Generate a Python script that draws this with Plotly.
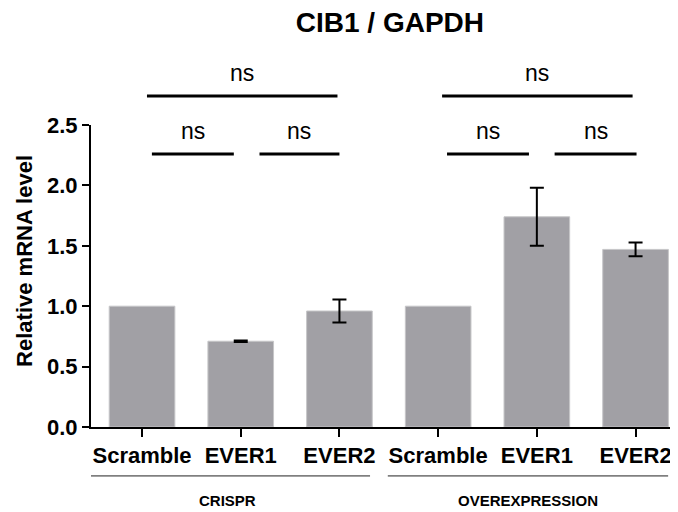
import plotly.graph_objects as go

categories = ["Scramble", "EVER1", "EVER2", "Scramble ", "EVER1 ", "EVER2 "]
tick_labels = ["Scramble", "EVER1", "EVER2", "Scramble", "EVER1", "EVER2"]
values = [1.0, 0.71, 0.96, 1.0, 1.74, 1.47]
errors = [None, 0.006, 0.095, None, 0.24, 0.057]

groups = ["CRISPR", "OVEREXPRESSION"]
group_spans = [(-0.58, 2.31), (2.49, 5.33)]

# significance brackets: (x0, x1, level in data units, label)
sig_brackets = [
    (0.05, 1.98, 2.74, "ns"),
    (3.04, 4.97, 2.74, "ns"),
    (0.10, 0.93, 2.26, "ns"),
    (1.19, 2.00, 2.26, "ns"),
    (3.09, 3.92, 2.26, "ns"),
    (4.18, 5.01, 2.26, "ns"),
]

y_max = 2.5
xs = list(range(len(categories)))

fig = go.Figure()
fig.add_trace(go.Bar(
    x=xs, y=values,
    width=0.665,
    marker=dict(color="#a1a0a5", line=dict(color="#c6c6c8", width=1)),
    showlegend=False, hoverinfo="skip",
))

# error bars only where an error exists
ex = [x for x, e in zip(xs, errors) if e is not None]
ey = [v for v, e in zip(values, errors) if e is not None]
ee = [e for e in errors if e is not None]
fig.add_trace(go.Scatter(
    x=ex, y=ey, mode="markers",
    marker=dict(size=1, color="rgba(0,0,0,0)"),
    error_y=dict(type="data", array=ee, visible=True, color="black",
                 thickness=2, width=7),
    showlegend=False,
))

font_family = "Arial, 'Liberation Sans', Helvetica, sans-serif"

shapes = []
annotations = []
for x0, x1, lvl, lab in sig_brackets:
    yp = lvl / y_max
    shapes.append(dict(type="line", xref="x", yref="paper", x0=x0, x1=x1,
                       y0=yp, y1=yp, line=dict(color="black", width=3)))
    annotations.append(dict(x=(x0 + x1) / 2, y=yp, xref="x", yref="paper",
                            text=lab, showarrow=False, yanchor="bottom", yshift=8,
                            font=dict(family=font_family, size=23, color="black")))

for (x0, x1), g in zip(group_spans, groups):
    shapes.append(dict(type="line", xref="x", yref="paper", x0=x0, x1=x1,
                       y0=-0.162, y1=-0.162, line=dict(color="#222222", width=1)))
    annotations.append(dict(x=(x0 + x1) / 2, y=-0.242, xref="x", yref="paper",
                            text=g, showarrow=False, yanchor="middle",
                            font=dict(family=font_family, size=15, color="black",
                                      weight="bold")))

# y-axis title
annotations.append(dict(x=-0.1124, y=0.55, xref="paper", yref="paper",
                        text="Relative mRNA level", showarrow=False, textangle=-90,
                        xanchor="center", yanchor="middle",
                        font=dict(family=font_family, size=22, color="black",
                                  weight="bold")))

fig.update_layout(
    width=670, height=504,
    margin=dict(l=83, r=0, t=117, b=85),
    paper_bgcolor="white", plot_bgcolor="white",
    title=dict(text="CIB1 / GAPDH", xref="container", yref="container",
               x=0.570, xanchor="center", y=0.972, yanchor="middle",
               font=dict(family=font_family, size=28, color="black", weight="bold")),
    shapes=shapes,
    annotations=annotations,
)

fig.update_xaxes(
    range=[-0.517, 5.43],
    tickmode="array", tickvals=xs, ticktext=tick_labels,
    showline=True, linecolor="black", linewidth=2,
    ticks="outside", ticklen=8, tickwidth=2, tickcolor="black",
    tickfont=dict(family=font_family, size=22, color="black", weight="bold"),
    showgrid=False, zeroline=False,
)
fig.update_yaxes(
    range=[0, y_max],
    tickvals=[0, 0.5, 1.0, 1.5, 2.0, 2.5],
    ticktext=["0.0", "0.5", "1.0", "1.5", "2.0", "2.5"],
    showline=True, linecolor="black", linewidth=2,
    ticks="outside", ticklen=7, tickwidth=2, tickcolor="black",
    tickfont=dict(family=font_family, size=22, color="black", weight="bold"),
    showgrid=False, zeroline=False,
)

fig.write_html("out.html")
